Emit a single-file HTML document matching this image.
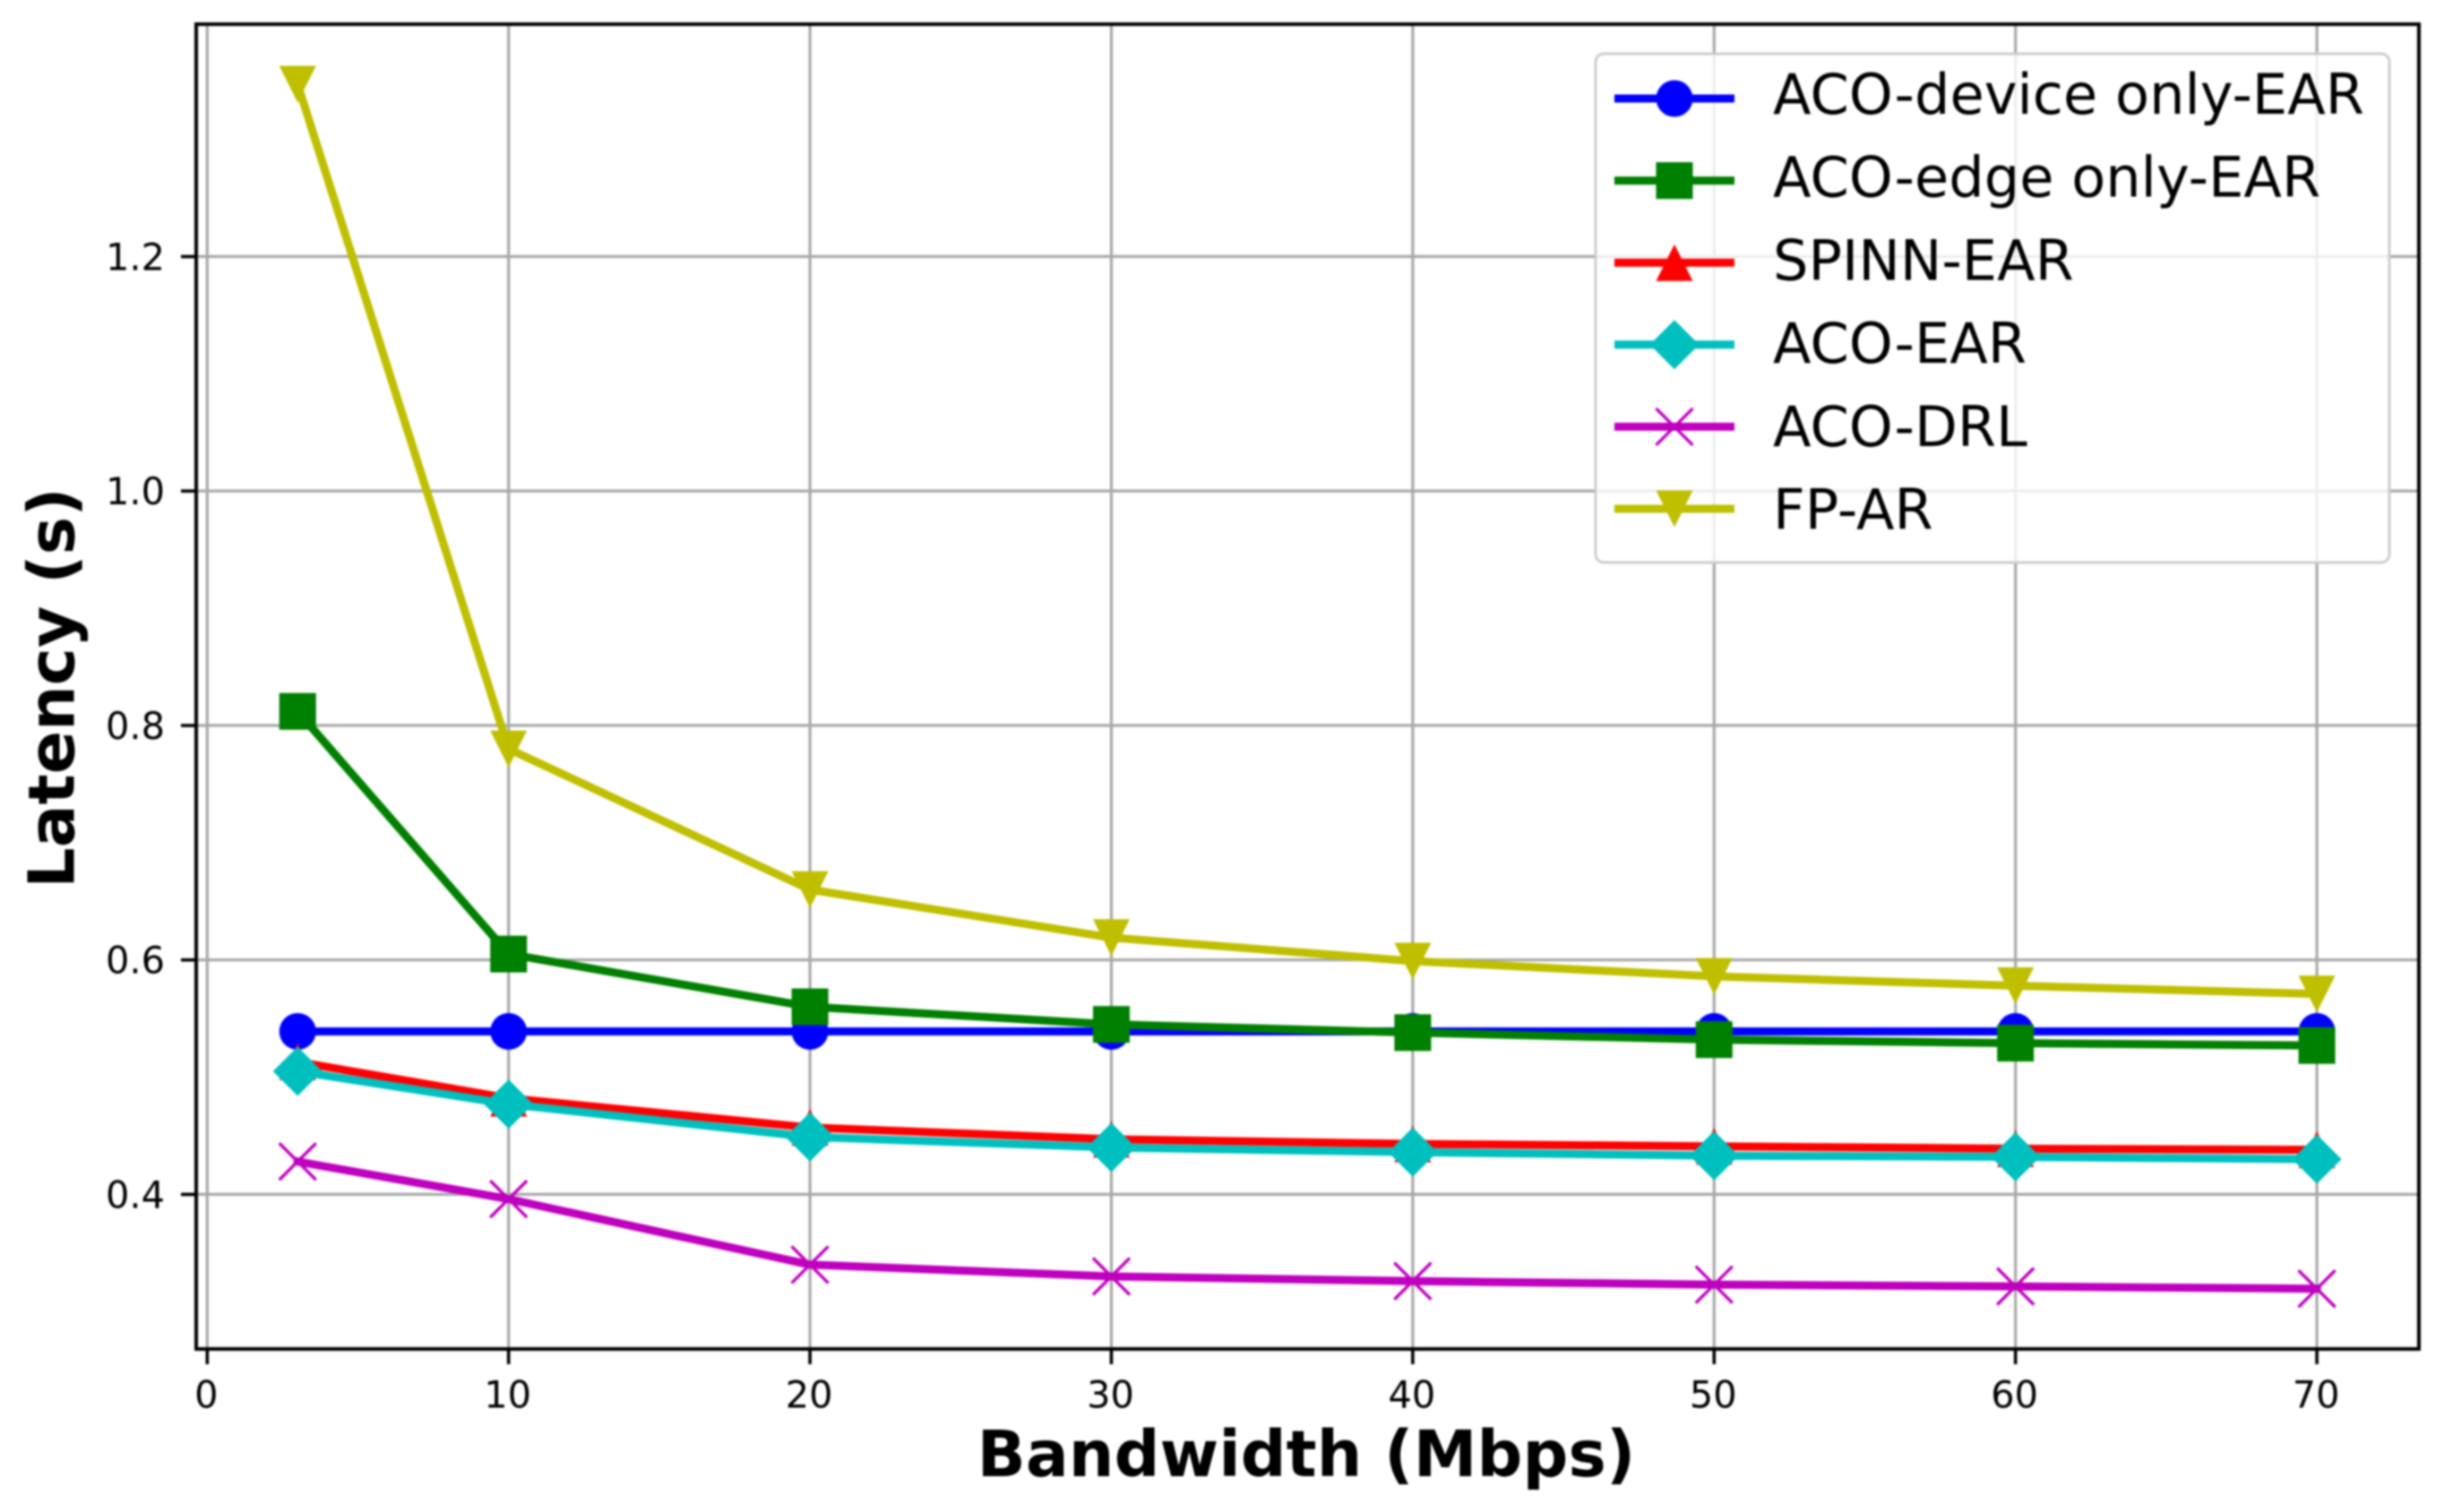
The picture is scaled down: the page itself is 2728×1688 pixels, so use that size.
<!DOCTYPE html>
<html>
<head>
<meta charset="utf-8">
<title>Latency vs Bandwidth</title>
<style>
html,body{margin:0;padding:0;background:#fff;}
#chart{display:block;width:2728px;height:1688px;filter:blur(1px);}
text{font-family:"DejaVu Sans","Liberation Sans",sans-serif;fill:#000;}
</style>
</head>
<body>
<svg id="chart" xmlns="http://www.w3.org/2000/svg" width="2728" height="1688" viewBox="0 0 2728 1688">
  <rect x="0" y="0" width="2728" height="1688" fill="#fff"/>
  <g id="grid"></g>
  <g id="series"></g>
  <g id="legend"></g>
  <rect x="219" y="27" width="2481" height="1479" fill="none" stroke="#000" stroke-width="4"/>
  <g id="ticks"></g>
  <text x="1458" y="1648" font-size="71.2" font-weight="bold" text-anchor="middle">Bandwidth (Mbps)</text>
  <text x="0" y="0" font-size="71.2" font-weight="bold" text-anchor="middle" transform="translate(82.7 768) rotate(-90)">Latency (s)</text>
</svg>
<script>
const categories = [3, 10, 20, 30, 40, 50, 60, 70];
const xTickLabels = [0, 10, 20, 30, 40, 50, 60, 70];
const yTickLabels = ["0.4", "0.6", "0.8", "1.0", "1.2"];
const deviceOnly = [0.539, 0.539, 0.539, 0.539, 0.539, 0.539, 0.539, 0.539];
const edgeOnly = [0.812, 0.605, 0.560, 0.545, 0.538, 0.532, 0.529, 0.527];
const spinn = [0.513, 0.482, 0.457, 0.447, 0.443, 0.441, 0.439, 0.438];
const acoEar = [0.505, 0.477, 0.449, 0.440, 0.436, 0.433, 0.432, 0.430];
const acoDrl = [0.428, 0.396, 0.340, 0.330, 0.326, 0.323, 0.3215, 0.3195];
const fpAr = [1.347, 0.780, 0.660, 0.619, 0.599, 0.586, 0.578, 0.571];
const seriesNames = ["ACO-device only-EAR", "ACO-edge only-EAR", "SPINN-EAR", "ACO-EAR", "ACO-DRL", "FP-AR"];
const seriesValues = [deviceOnly, edgeOnly, spinn, acoEar, acoDrl, fpAr];
const seriesColors = ["#0000ff", "#008000", "#ff0000", "#00bfbf", "#bf00bf", "#bfbf00"];
const seriesMarkers = ["circle", "square", "triangle-up", "diamond", "x", "triangle-down"];

const NS = "http://www.w3.org/2000/svg";
const AX = {left: 219, right: 2700, top: 27, bottom: 1506};
function xScale(v) { return 231.3 + v * 33.64; }
function yScale(v) { return 1333.4 - (v - 0.4) * 1308.75; }
function make(tag, parent, attrs) {
  const el = document.createElementNS(NS, tag);
  for (const k in attrs) el.setAttribute(k, attrs[k]);
  parent.appendChild(el);
  return el;
}
function drawMarker(parent, kind, cx, cy, color, label) {
  let el;
  const r = 20.5;
  if (kind === "circle") {
    el = make("circle", parent, {cx: cx, cy: cy, r: r, fill: color});
  } else if (kind === "square") {
    el = make("rect", parent, {x: cx - r, y: cy - r, width: 2 * r, height: 2 * r, fill: color});
  } else if (kind === "triangle-up") {
    el = make("polygon", parent, {points: `${cx},${cy - r} ${cx - r},${cy + r} ${cx + r},${cy + r}`, fill: color});
  } else if (kind === "triangle-down") {
    el = make("polygon", parent, {points: `${cx},${cy + r} ${cx - r},${cy - r} ${cx + r},${cy - r}`, fill: color});
  } else if (kind === "diamond") {
    const d = 27.5;
    el = make("polygon", parent, {points: `${cx},${cy - d} ${cx + d},${cy} ${cx},${cy + d} ${cx - d},${cy}`, fill: color});
  } else {
    el = make("path", parent, {d: `M${cx - r} ${cy - r}L${cx + r} ${cy + r}M${cx - r} ${cy + r}L${cx + r} ${cy - r}`, fill: "none", stroke: color, "stroke-width": 3.4});
  }
  
  
}

const gridG = document.getElementById("grid");
const ticksG = document.getElementById("ticks");
xTickLabels.forEach(function (t) {
  const x = xScale(t);
  const g = make("line", gridG, {x1: x, x2: x, y1: AX.top, y2: AX.bottom, stroke: "#a8a8a8", "stroke-width": 3.2});
  
  
  const m = make("line", ticksG, {x1: x, x2: x, y1: AX.bottom, y2: AX.bottom + 17, stroke: "#000", "stroke-width": 3.6});
  
  
  const l = make("text", ticksG, {x: x - 1, y: 1571.5, "font-size": 41.5, "text-anchor": "middle"});
  l.textContent = String(t);
  
  
});
yTickLabels.forEach(function (t) {
  const y = yScale(parseFloat(t));
  const g = make("line", gridG, {x1: AX.left, x2: AX.right, y1: y, y2: y, stroke: "#a8a8a8", "stroke-width": 3.2});
  
  
  const m = make("line", ticksG, {x1: AX.left - 17, x2: AX.left, y1: y, y2: y, stroke: "#000", "stroke-width": 3.6});
  
  
  const l = make("text", ticksG, {x: 184, y: y + 15, "font-size": 41.5, "text-anchor": "end"});
  l.textContent = t;
  
  
});

const seriesG = document.getElementById("series");
seriesValues.forEach(function (vals, i) {
  const g = make("g", seriesG, {});
  
  
  const pts = vals.map(function (v, j) { return xScale(categories[j]) + "," + yScale(v); }).join(" ");
  const line = make("polyline", g, {points: pts, fill: "none", stroke: seriesColors[i], "stroke-width": 9, "stroke-linejoin": "round", "stroke-linecap": "square"});
  
  
  vals.forEach(function (v, j) {
    drawMarker(g, seriesMarkers[i], xScale(categories[j]), yScale(v), seriesColors[i], 'series-point');
  });
});

const legendG = document.getElementById("legend");
const legendBox = make("rect", legendG, {x: 1781, y: 60, width: 886, height: 568, rx: 9, ry: 9, fill: "#fff", "fill-opacity": 0.8, stroke: "#cccccc", "stroke-width": 3});


seriesNames.forEach(function (name, i) {
  const y = 110 + i * 91.6;
  const g = make("g", legendG, {});
  
  
  const h = make("line", g, {x1: 1802, x2: 1936, y1: y, y2: y, stroke: seriesColors[i], "stroke-width": 9});
  
  
  drawMarker(g, seriesMarkers[i], 1869, y, seriesColors[i], 'legend-marker');
  const t = make("text", g, {x: 1979, y: 127 + i * 92.7, "font-size": 62.2});
  t.textContent = name;
  
  
});
</script>
</body>
</html>
